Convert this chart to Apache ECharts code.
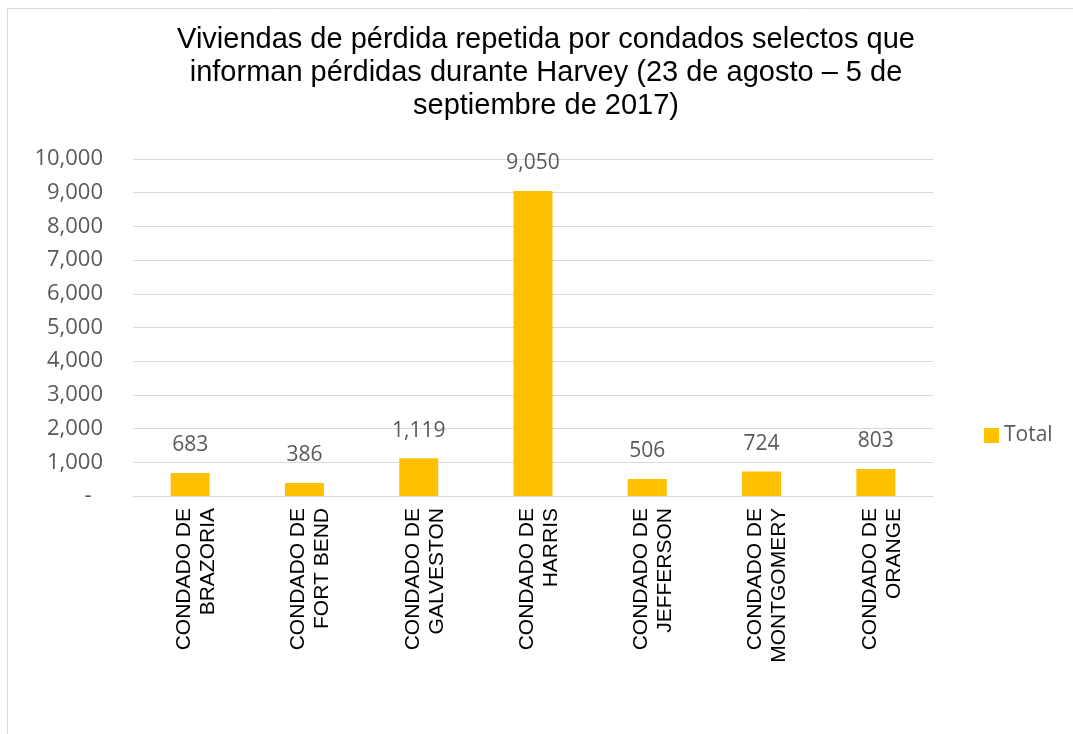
<!DOCTYPE html>
<html>
<head>
<meta charset="utf-8">
<script src="https://cdn.jsdelivr.net/npm/echarts@6/dist/echarts.min.js"></script>
<style>
html,body{margin:0;padding:0;background:#fff;}
#chart{width:1073px;height:734px;}
</style>
</head>
<body>
<div id="chart"></div>
<script>
const titleText = 'Viviendas de pérdida repetida por condados selectos que\ninforman pérdidas durante Harvey (23 de agosto – 5 de\nseptiembre de 2017)';
const categories = [
  'CONDADO DE\nBRAZORIA',
  'CONDADO DE\nFORT BEND',
  'CONDADO DE\nGALVESTON',
  'CONDADO DE\nHARRIS',
  'CONDADO DE\nJEFFERSON',
  'CONDADO DE\nMONTGOMERY',
  'CONDADO DE\nORANGE'
];
const totals = [683, 386, 1119, 9050, 506, 724, 803];
const seriesName = 'Total';
const yMin = 0, yMax = 10000, yStep = 1000;

const chart = echarts.init(document.getElementById('chart'));
const fmt = v => v === 0 ? '-  ' : v.toLocaleString('en-US');
chart.setOption({
  animation: false,
  backgroundColor: '#ffffff',
  title: {
    text: titleText,
    left: 541,
    top: 18,
    textAlign: 'center',
    textStyle: {fontFamily: 'Liberation Sans', fontSize: 29, fontWeight: 'normal', color: '#000000', lineHeight: 33}
  },
  graphic: [
    {type: 'line', shape: {x1: 7.5, y1: 8, x2: 7.5, y2: 734}, style: {stroke: '#d9d9d9', lineWidth: 1}},
    {type: 'line', shape: {x1: 7, y1: 8.5, x2: 1073, y2: 8.5}, style: {stroke: '#d9d9d9', lineWidth: 1}}
  ],
  legend: {
    data: [seriesName],
    left: 979,
    top: 420,
    icon: 'rect',
    itemWidth: 15,
    itemHeight: 15,
    itemGap: 6,
    textStyle: {fontFamily: 'Open Sans', fontSize: 21, color: '#595959'}
  },
  grid: {left: 133, right: 140, top: 159, bottom: 238, containLabel: false},
  xAxis: {
    type: 'category',
    data: categories,
    axisLine: {show: true, lineStyle: {color: '#d9d9d9', width: 1}},
    axisTick: {show: false},
    axisLabel: {
      rotate: 90,
      margin: 12,
      interval: 0,
      formatter: v => '{s| }\n' + v,
      rich: {s: {fontSize: 6, lineHeight: 12}},
      fontFamily: 'Liberation Sans',
      fontSize: 21,
      lineHeight: 24,
      color: '#000000'
    }
  },
  yAxis: {
    type: 'value',
    min: yMin,
    max: yMax,
    interval: yStep,
    axisLine: {show: false},
    axisTick: {show: false},
    splitLine: {lineStyle: {color: '#d9d9d9', width: 1}},
    axisLabel: {
      formatter: fmt,
      margin: 30,
      fontFamily: 'Open Sans',
      fontSize: 22,
      color: '#595959'
    }
  },
  series: [{
    name: seriesName,
    type: 'bar',
    data: totals,
    barWidth: 39,
    itemStyle: {color: '#FFC000'},
    label: {
      show: true,
      position: 'top',
      distance: 17,
      formatter: p => p.value.toLocaleString('en-US'),
      fontFamily: 'Open Sans',
      fontSize: 21,
      color: '#595959'
    }
  }]
});
</script>
</body>
</html>
